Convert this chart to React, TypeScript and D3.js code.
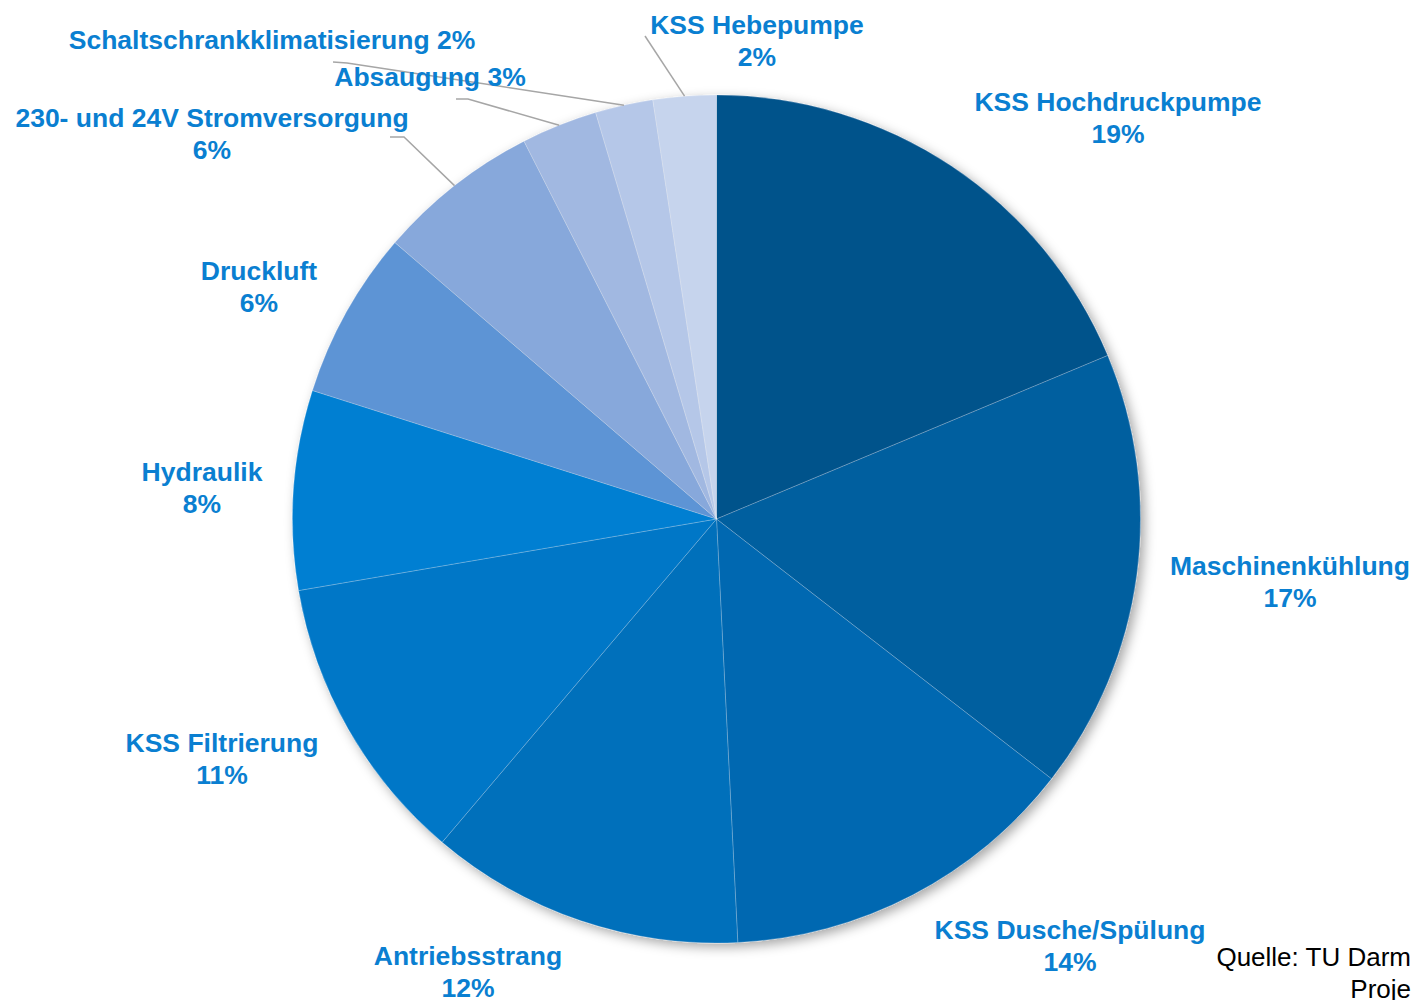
import React from 'react';
import * as d3 from 'd3';

const width = 1413;
const height = 1000;
const cx = 716.5;
const cy = 519;
const radius = 424;

// slices clockwise from 12 o'clock
const categories = [
  'KSS Hochdruckpumpe',
  'Maschinenkühlung',
  'KSS Dusche/Spülung',
  'Antriebsstrang',
  'KSS Filtrierung',
  'Hydraulik',
  'Druckluft',
  '230- und 24V Stromversorgung',
  'Absaugung',
  'Schaltschrankklimatisierung',
  'KSS Hebepumpe',
];
const shares = [18.7, 16.8, 13.7, 12.0, 11.1, 7.6, 6.4, 6.2, 2.9, 2.2, 2.4];
const colors = [
  '#03528b',
  '#025e9f',
  '#0068b1',
  '#006fbb',
  '#0077c7',
  '#037fd2',
  '#5d94d5',
  '#87a8db',
  '#a1b8e1',
  '#b5c7e8',
  '#c6d4ed',
];
const sourceLines = ['Quelle: TU Darm', 'Proje'];

// label layout: centre x, centre y of first line, leader start points
const labelLayout = [
  { x: 1118, y: 102 },
  { x: 1290, y: 566 },
  { x: 1070, y: 930 },
  { x: 468, y: 956 },
  { x: 222, y: 743 },
  { x: 202, y: 472 },
  { x: 259, y: 271 },
  { x: 212, y: 118, leader: [[390, 137], [404, 137]] },
  { x: 430, y: 77, oneLine: true, leader: [[456, 99], [468, 99]] },
  { x: 272, y: 40, oneLine: true, leader: [[333, 62], [347, 63]] },
  { x: 757, y: 25, leader: [[645, 36]] },
];

export default function App() {
  const data = categories.map((c, i) => ({ name: c, value: shares[i], i }));
  const pie = d3.pie<any>().sort(null).value(d => d.value);
  const arcs = pie(data);
  const arc = d3.arc<any>().innerRadius(0).outerRadius(radius);
  const line = d3.line();

  return (
    <svg
      width={width}
      height={height}
      style={{ display: 'block', position: 'absolute', left: 0, top: 0 }}
    >
      <defs>
        <filter id="shadow" x="-20%" y="-20%" width="140%" height="140%">
          <feGaussianBlur in="SourceAlpha" stdDeviation="6" />
          <feOffset dx="4" dy="4" result="b" />
          <feFlood floodColor="#000" floodOpacity="0.35" />
          <feComposite in2="b" operator="in" />
          <feMerge>
            <feMergeNode />
            <feMergeNode in="SourceGraphic" />
          </feMerge>
        </filter>
      </defs>
      <rect width={width} height={height} fill="#fff" />
      <g transform={`translate(${cx},${cy})`} filter="url(#shadow)">
        {arcs.map((a, i) => (
          <path
            key={i}
            d={arc(a) as string}
            fill={colors[i]}
            stroke="rgba(255,255,255,0.35)"
            strokeWidth={0.6}
          />
        ))}
      </g>
      {arcs.map((a, i) => {
        const lay = labelLayout[i];
        if (!lay.leader) return null;
        const mid = (a.startAngle + a.endAngle) / 2;
        const end: [number, number] = [cx + radius * Math.sin(mid), cy - radius * Math.cos(mid)];
        const pts = [...(lay.leader as [number, number][]), end];
        return (
          <path key={'l' + i} d={line(pts) as string} fill="none" stroke="#a6a6a6" strokeWidth={1.5} />
        );
      })}
      <g
        fontFamily="'Liberation Sans', Arial, sans-serif"
        fontWeight="bold"
        fontSize={26.5}
        fill="#0a7fd1"
        textAnchor="middle"
      >
        {data.map((d, i) => {
          const lay = labelLayout[i];
          const pct = Math.round(d.value) + '%';
          if (lay.oneLine) {
            return (
              <text key={i} x={lay.x} y={lay.y} dy="0.35em">
                {d.name} {pct}
              </text>
            );
          }
          return (
            <text key={i} x={lay.x} y={lay.y} dy="0.35em">
              <tspan x={lay.x}>{d.name}</tspan>
              <tspan x={lay.x} dy={31.5}>
                {pct}
              </tspan>
            </text>
          );
        })}
      </g>
      <g fontFamily="'Liberation Sans', Arial, sans-serif" fontSize={26} fill="#000" textAnchor="end">
        {sourceLines.map((s, i) => (
          <text key={i} x={1411} y={957 + i * 31.5} dy="0.35em">
            {s}
          </text>
        ))}
      </g>
    </svg>
  );
}
